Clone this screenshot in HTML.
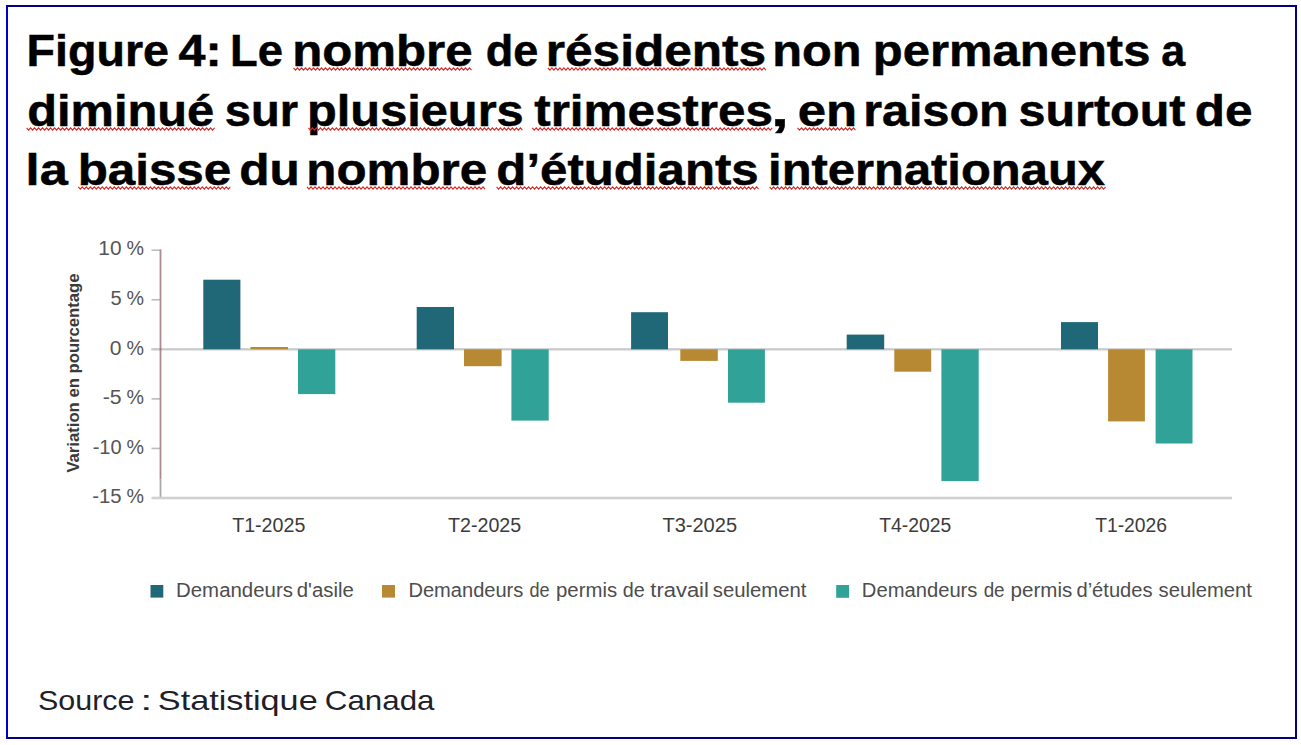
<!DOCTYPE html>
<html><head><meta charset="utf-8"><style>
html,body{margin:0;padding:0;background:#fff;width:1301px;height:745px;overflow:hidden}
svg{display:block;font-family:"Liberation Sans",sans-serif}
#frame{position:absolute;left:6px;top:5px;width:1287px;height:730px;border:2px solid #000080;border-left-color:#0000d0}
</style></head><body>
<div id="frame"></div>
<svg width="1301" height="745" viewBox="0 0 1301 745">
<text x="26.63" y="65.60" font-size="44" font-weight="bold" fill="#000" textLength="142.30" lengthAdjust="spacingAndGlyphs" stroke="#000" stroke-width="0.5">Figure</text>
<text x="178.53" y="65.60" font-size="44" font-weight="bold" fill="#000" textLength="43.13" lengthAdjust="spacingAndGlyphs" stroke="#000" stroke-width="0.5">4:</text>
<text x="230.11" y="65.60" font-size="44" font-weight="bold" fill="#000" textLength="52.88" lengthAdjust="spacingAndGlyphs" stroke="#000" stroke-width="0.5">Le</text>
<text x="292.16" y="65.60" font-size="44" font-weight="bold" fill="#000" textLength="180.46" lengthAdjust="spacingAndGlyphs" stroke="#000" stroke-width="0.5">nombre</text>
<polyline points="293.5,67.9 295.5,70.1 297.5,67.9 299.5,70.1 301.5,67.9 303.5,70.1 305.5,67.9 307.5,70.1 309.5,67.9 311.5,70.1 313.5,67.9 315.5,70.1 317.5,67.9 319.5,70.1 321.5,67.9 323.5,70.1 325.5,67.9 327.5,70.1 329.5,67.9 331.5,70.1 333.5,67.9 335.5,70.1 337.5,67.9 339.5,70.1 341.5,67.9 343.5,70.1 345.5,67.9 347.5,70.1 349.5,67.9 351.5,70.1 353.5,67.9 355.5,70.1 357.5,67.9 359.5,70.1 361.5,67.9 363.5,70.1 365.5,67.9 367.5,70.1 369.5,67.9 371.5,70.1 373.5,67.9 375.5,70.1 377.5,67.9 379.5,70.1 381.5,67.9 383.5,70.1 385.5,67.9 387.5,70.1 389.5,67.9 391.5,70.1 393.5,67.9 395.5,70.1 397.5,67.9 399.5,70.1 401.5,67.9 403.5,70.1 405.5,67.9 407.5,70.1 409.5,67.9 411.5,70.1 413.5,67.9 415.5,70.1 417.5,67.9 419.5,70.1 421.5,67.9 423.5,70.1 425.5,67.9 427.5,70.1 429.5,67.9 431.5,70.1 433.5,67.9 435.5,70.1 437.5,67.9 439.5,70.1 441.5,67.9 443.5,70.1 445.5,67.9 447.5,70.1 449.5,67.9 451.5,70.1 453.5,67.9 455.5,70.1 457.5,67.9 459.5,70.1 461.5,67.9 463.5,70.1 465.5,67.9 467.5,70.1 469.5,67.9 471.5,70.1" fill="none" stroke="#d42828" stroke-width="1.15"/>
<text x="485.66" y="65.60" font-size="44" font-weight="bold" fill="#000" textLength="52.52" lengthAdjust="spacingAndGlyphs" stroke="#000" stroke-width="0.5">de</text>
<text x="545.73" y="65.60" font-size="44" font-weight="bold" fill="#000" textLength="220.42" lengthAdjust="spacingAndGlyphs" stroke="#000" stroke-width="0.5">résidents</text>
<polyline points="547.9,67.9 549.9,70.1 551.9,67.9 553.9,70.1 555.9,67.9 557.9,70.1 559.9,67.9 561.9,70.1 563.9,67.9 565.9,70.1 567.9,67.9 569.9,70.1 571.9,67.9 573.9,70.1 575.9,67.9 577.9,70.1 579.9,67.9 581.9,70.1 583.9,67.9 585.9,70.1 587.9,67.9 589.9,70.1 591.9,67.9 593.9,70.1 595.9,67.9 597.9,70.1 599.9,67.9 601.9,70.1 603.9,67.9 605.9,70.1 607.9,67.9 609.9,70.1 611.9,67.9 613.9,70.1 615.9,67.9 617.9,70.1 619.9,67.9 621.9,70.1 623.9,67.9 625.9,70.1 627.9,67.9 629.9,70.1 631.9,67.9 633.9,70.1 635.9,67.9 637.9,70.1 639.9,67.9 641.9,70.1 643.9,67.9 645.9,70.1 647.9,67.9 649.9,70.1 651.9,67.9 653.9,70.1 655.9,67.9 657.9,70.1 659.9,67.9 661.9,70.1 663.9,67.9 665.9,70.1 667.9,67.9 669.9,70.1 671.9,67.9 673.9,70.1 675.9,67.9 677.9,70.1 679.9,67.9 681.9,70.1 683.9,67.9 685.9,70.1 687.9,67.9 689.9,70.1 691.9,67.9 693.9,70.1 695.9,67.9 697.9,70.1 699.9,67.9 701.9,70.1 703.9,67.9 705.9,70.1 707.9,67.9 709.9,70.1 711.9,67.9 713.9,70.1 715.9,67.9 717.9,70.1 719.9,67.9 721.9,70.1 723.9,67.9 725.9,70.1 727.9,67.9 729.9,70.1 731.9,67.9 733.9,70.1 735.9,67.9 737.9,70.1 739.9,67.9 741.9,70.1 743.9,67.9 745.9,70.1 747.9,67.9 749.9,70.1 751.9,67.9 753.9,70.1 755.9,67.9 757.9,70.1 759.9,67.9 761.9,70.1 763.9,67.9 765.9,70.1" fill="none" stroke="#d42828" stroke-width="1.15"/>
<text x="772.19" y="65.60" font-size="44" font-weight="bold" fill="#000" textLength="89.34" lengthAdjust="spacingAndGlyphs" stroke="#000" stroke-width="0.5">non</text>
<text x="872.87" y="65.60" font-size="44" font-weight="bold" fill="#000" textLength="277.54" lengthAdjust="spacingAndGlyphs" stroke="#000" stroke-width="0.5">permanents</text>
<text x="1161.33" y="65.60" font-size="44" font-weight="bold" fill="#000" textLength="23.95" lengthAdjust="spacingAndGlyphs" stroke="#000" stroke-width="0.5">a</text>
<text x="27.20" y="125.50" font-size="44" font-weight="bold" fill="#000" textLength="187.03" lengthAdjust="spacingAndGlyphs" stroke="#000" stroke-width="0.5">diminué</text>
<polyline points="26.6,127.9 28.6,130.1 30.6,127.9 32.6,130.1 34.6,127.9 36.6,130.1 38.6,127.9 40.6,130.1 42.6,127.9 44.6,130.1 46.6,127.9 48.6,130.1 50.6,127.9 52.6,130.1 54.6,127.9 56.6,130.1 58.6,127.9 60.6,130.1 62.6,127.9 64.6,130.1 66.6,127.9 68.6,130.1 70.6,127.9 72.6,130.1 74.6,127.9 76.6,130.1 78.6,127.9 80.6,130.1 82.6,127.9 84.6,130.1 86.6,127.9 88.6,130.1 90.6,127.9 92.6,130.1 94.6,127.9 96.6,130.1 98.6,127.9 100.6,130.1 102.6,127.9 104.6,130.1 106.6,127.9 108.6,130.1 110.6,127.9 112.6,130.1 114.6,127.9 116.6,130.1 118.6,127.9 120.6,130.1 122.6,127.9 124.6,130.1 126.6,127.9 128.6,130.1 130.6,127.9 132.6,130.1 134.6,127.9 136.6,130.1 138.6,127.9 140.6,130.1 142.6,127.9 144.6,130.1 146.6,127.9 148.6,130.1 150.6,127.9 152.6,130.1 154.6,127.9 156.6,130.1 158.6,127.9 160.6,130.1 162.6,127.9 164.6,130.1 166.6,127.9 168.6,130.1 170.6,127.9 172.6,130.1 174.6,127.9 176.6,130.1 178.6,127.9 180.6,130.1 182.6,127.9 184.6,130.1 186.6,127.9 188.6,130.1 190.6,127.9 192.6,130.1 194.6,127.9 196.6,130.1 198.6,127.9 200.6,130.1 202.6,127.9 204.6,130.1 206.6,127.9 208.6,130.1 210.6,127.9 212.6,130.1 214.6,127.9" fill="none" stroke="#d42828" stroke-width="1.15"/>
<text x="224.89" y="125.50" font-size="44" font-weight="bold" fill="#000" textLength="73.33" lengthAdjust="spacingAndGlyphs" stroke="#000" stroke-width="0.5">sur</text>
<text x="307.09" y="125.50" font-size="44" font-weight="bold" fill="#000" textLength="216.62" lengthAdjust="spacingAndGlyphs" stroke="#000" stroke-width="0.5">plusieurs</text>
<polyline points="308.4,127.9 310.4,130.1 312.4,127.9 314.4,130.1 316.4,127.9 318.4,130.1 320.4,127.9 322.4,130.1 324.4,127.9 326.4,130.1 328.4,127.9 330.4,130.1 332.4,127.9 334.4,130.1 336.4,127.9 338.4,130.1 340.4,127.9 342.4,130.1 344.4,127.9 346.4,130.1 348.4,127.9 350.4,130.1 352.4,127.9 354.4,130.1 356.4,127.9 358.4,130.1 360.4,127.9 362.4,130.1 364.4,127.9 366.4,130.1 368.4,127.9 370.4,130.1 372.4,127.9 374.4,130.1 376.4,127.9 378.4,130.1 380.4,127.9 382.4,130.1 384.4,127.9 386.4,130.1 388.4,127.9 390.4,130.1 392.4,127.9 394.4,130.1 396.4,127.9 398.4,130.1 400.4,127.9 402.4,130.1 404.4,127.9 406.4,130.1 408.4,127.9 410.4,130.1 412.4,127.9 414.4,130.1 416.4,127.9 418.4,130.1 420.4,127.9 422.4,130.1 424.4,127.9 426.4,130.1 428.4,127.9 430.4,130.1 432.4,127.9 434.4,130.1 436.4,127.9 438.4,130.1 440.4,127.9 442.4,130.1 444.4,127.9 446.4,130.1 448.4,127.9 450.4,130.1 452.4,127.9 454.4,130.1 456.4,127.9 458.4,130.1 460.4,127.9 462.4,130.1 464.4,127.9 466.4,130.1 468.4,127.9 470.4,130.1 472.4,127.9 474.4,130.1 476.4,127.9 478.4,130.1 480.4,127.9 482.4,130.1 484.4,127.9 486.4,130.1 488.4,127.9 490.4,130.1 492.4,127.9 494.4,130.1 496.4,127.9 498.4,130.1 500.4,127.9 502.4,130.1 504.4,127.9 506.4,130.1 508.4,127.9 510.4,130.1 512.4,127.9 514.4,130.1 516.4,127.9 518.4,130.1 520.4,127.9 522.4,130.1" fill="none" stroke="#d42828" stroke-width="1.15"/>
<text x="534.24" y="125.50" font-size="44" font-weight="bold" fill="#000" textLength="238.66" lengthAdjust="spacingAndGlyphs" stroke="#000" stroke-width="0.5">trimestres</text>
<polyline points="532.2,127.9 534.2,130.1 536.2,127.9 538.2,130.1 540.2,127.9 542.2,130.1 544.2,127.9 546.2,130.1 548.2,127.9 550.2,130.1 552.2,127.9 554.2,130.1 556.2,127.9 558.2,130.1 560.2,127.9 562.2,130.1 564.2,127.9 566.2,130.1 568.2,127.9 570.2,130.1 572.2,127.9 574.2,130.1 576.2,127.9 578.2,130.1 580.2,127.9 582.2,130.1 584.2,127.9 586.2,130.1 588.2,127.9 590.2,130.1 592.2,127.9 594.2,130.1 596.2,127.9 598.2,130.1 600.2,127.9 602.2,130.1 604.2,127.9 606.2,130.1 608.2,127.9 610.2,130.1 612.2,127.9 614.2,130.1 616.2,127.9 618.2,130.1 620.2,127.9 622.2,130.1 624.2,127.9 626.2,130.1 628.2,127.9 630.2,130.1 632.2,127.9 634.2,130.1 636.2,127.9 638.2,130.1 640.2,127.9 642.2,130.1 644.2,127.9 646.2,130.1 648.2,127.9 650.2,130.1 652.2,127.9 654.2,130.1 656.2,127.9 658.2,130.1 660.2,127.9 662.2,130.1 664.2,127.9 666.2,130.1 668.2,127.9 670.2,130.1 672.2,127.9 674.2,130.1 676.2,127.9 678.2,130.1 680.2,127.9 682.2,130.1 684.2,127.9 686.2,130.1 688.2,127.9 690.2,130.1 692.2,127.9 694.2,130.1 696.2,127.9 698.2,130.1 700.2,127.9 702.2,130.1 704.2,127.9 706.2,130.1 708.2,127.9 710.2,130.1 712.2,127.9 714.2,130.1 716.2,127.9 718.2,130.1 720.2,127.9 722.2,130.1 724.2,127.9 726.2,130.1 728.2,127.9 730.2,130.1 732.2,127.9 734.2,130.1 736.2,127.9 738.2,130.1 740.2,127.9 742.2,130.1 744.2,127.9 746.2,130.1 748.2,127.9 750.2,130.1 752.2,127.9 754.2,130.1 756.2,127.9 758.2,130.1 760.2,127.9 762.2,130.1 764.2,127.9 766.2,130.1 768.2,127.9 770.2,130.1 772.2,127.9" fill="none" stroke="#d42828" stroke-width="1.15"/>
<text x="771.31" y="125.50" font-size="44" font-weight="bold" fill="#000" textLength="17.46" lengthAdjust="spacingAndGlyphs" stroke="#000" stroke-width="0.5">,</text>
<text x="797.74" y="125.50" font-size="44" font-weight="bold" fill="#000" textLength="59.34" lengthAdjust="spacingAndGlyphs" stroke="#000" stroke-width="0.5">en</text>
<polyline points="797.5,127.9 799.5,130.1 801.5,127.9 803.5,130.1 805.5,127.9 807.5,130.1 809.5,127.9 811.5,130.1 813.5,127.9 815.5,130.1 817.5,127.9 819.5,130.1 821.5,127.9 823.5,130.1 825.5,127.9 827.5,130.1 829.5,127.9 831.5,130.1 833.5,127.9 835.5,130.1 837.5,127.9 839.5,130.1 841.5,127.9 843.5,130.1 845.5,127.9 847.5,130.1 849.5,127.9 851.5,130.1 853.5,127.9 855.5,130.1" fill="none" stroke="#d42828" stroke-width="1.15"/>
<text x="863.20" y="125.50" font-size="44" font-weight="bold" fill="#000" textLength="145.52" lengthAdjust="spacingAndGlyphs" stroke="#000" stroke-width="0.5">raison</text>
<text x="1018.44" y="125.50" font-size="44" font-weight="bold" fill="#000" textLength="167.05" lengthAdjust="spacingAndGlyphs" stroke="#000" stroke-width="0.5">surtout</text>
<text x="1194.78" y="125.50" font-size="44" font-weight="bold" fill="#000" textLength="57.75" lengthAdjust="spacingAndGlyphs" stroke="#000" stroke-width="0.5">de</text>
<text x="25.64" y="184.50" font-size="44" font-weight="bold" fill="#000" textLength="42.12" lengthAdjust="spacingAndGlyphs" stroke="#000" stroke-width="0.5">la</text>
<text x="77.65" y="184.50" font-size="44" font-weight="bold" fill="#000" textLength="153.61" lengthAdjust="spacingAndGlyphs" stroke="#000" stroke-width="0.5">baisse</text>
<polyline points="78.3,186.9 80.3,189.1 82.3,186.9 84.3,189.1 86.3,186.9 88.3,189.1 90.3,186.9 92.3,189.1 94.3,186.9 96.3,189.1 98.3,186.9 100.3,189.1 102.3,186.9 104.3,189.1 106.3,186.9 108.3,189.1 110.3,186.9 112.3,189.1 114.3,186.9 116.3,189.1 118.3,186.9 120.3,189.1 122.3,186.9 124.3,189.1 126.3,186.9 128.3,189.1 130.3,186.9 132.3,189.1 134.3,186.9 136.3,189.1 138.3,186.9 140.3,189.1 142.3,186.9 144.3,189.1 146.3,186.9 148.3,189.1 150.3,186.9 152.3,189.1 154.3,186.9 156.3,189.1 158.3,186.9 160.3,189.1 162.3,186.9 164.3,189.1 166.3,186.9 168.3,189.1 170.3,186.9 172.3,189.1 174.3,186.9 176.3,189.1 178.3,186.9 180.3,189.1 182.3,186.9 184.3,189.1 186.3,186.9 188.3,189.1 190.3,186.9 192.3,189.1 194.3,186.9 196.3,189.1 198.3,186.9 200.3,189.1 202.3,186.9 204.3,189.1 206.3,186.9 208.3,189.1 210.3,186.9 212.3,189.1 214.3,186.9 216.3,189.1 218.3,186.9 220.3,189.1 222.3,186.9 224.3,189.1 226.3,186.9 228.3,189.1 230.3,186.9" fill="none" stroke="#d42828" stroke-width="1.15"/>
<text x="239.37" y="184.50" font-size="44" font-weight="bold" fill="#000" textLength="60.54" lengthAdjust="spacingAndGlyphs" stroke="#000" stroke-width="0.5">du</text>
<text x="306.35" y="184.50" font-size="44" font-weight="bold" fill="#000" textLength="180.87" lengthAdjust="spacingAndGlyphs" stroke="#000" stroke-width="0.5">nombre</text>
<polyline points="307.0,186.9 309.0,189.1 311.0,186.9 313.0,189.1 315.0,186.9 317.0,189.1 319.0,186.9 321.0,189.1 323.0,186.9 325.0,189.1 327.0,186.9 329.0,189.1 331.0,186.9 333.0,189.1 335.0,186.9 337.0,189.1 339.0,186.9 341.0,189.1 343.0,186.9 345.0,189.1 347.0,186.9 349.0,189.1 351.0,186.9 353.0,189.1 355.0,186.9 357.0,189.1 359.0,186.9 361.0,189.1 363.0,186.9 365.0,189.1 367.0,186.9 369.0,189.1 371.0,186.9 373.0,189.1 375.0,186.9 377.0,189.1 379.0,186.9 381.0,189.1 383.0,186.9 385.0,189.1 387.0,186.9 389.0,189.1 391.0,186.9 393.0,189.1 395.0,186.9 397.0,189.1 399.0,186.9 401.0,189.1 403.0,186.9 405.0,189.1 407.0,186.9 409.0,189.1 411.0,186.9 413.0,189.1 415.0,186.9 417.0,189.1 419.0,186.9 421.0,189.1 423.0,186.9 425.0,189.1 427.0,186.9 429.0,189.1 431.0,186.9 433.0,189.1 435.0,186.9 437.0,189.1 439.0,186.9 441.0,189.1 443.0,186.9 445.0,189.1 447.0,186.9 449.0,189.1 451.0,186.9 453.0,189.1 455.0,186.9 457.0,189.1 459.0,186.9 461.0,189.1 463.0,186.9 465.0,189.1 467.0,186.9 469.0,189.1 471.0,186.9 473.0,189.1 475.0,186.9 477.0,189.1 479.0,186.9 481.0,189.1 483.0,186.9 485.0,189.1" fill="none" stroke="#d42828" stroke-width="1.15"/>
<text x="496.39" y="184.50" font-size="44" font-weight="bold" fill="#000" textLength="262.29" lengthAdjust="spacingAndGlyphs" stroke="#000" stroke-width="0.5">d’étudiants</text>
<polyline points="496.6,186.9 498.6,189.1 500.6,186.9 502.6,189.1 504.6,186.9 506.6,189.1 508.6,186.9 510.6,189.1 512.6,186.9 514.6,189.1 516.6,186.9 518.6,189.1 520.6,186.9 522.6,189.1 524.6,186.9 526.6,189.1 528.6,186.9 530.6,189.1 532.6,186.9 534.6,189.1 536.6,186.9 538.6,189.1 540.6,186.9 542.6,189.1 544.6,186.9 546.6,189.1 548.6,186.9 550.6,189.1 552.6,186.9 554.6,189.1 556.6,186.9 558.6,189.1 560.6,186.9 562.6,189.1 564.6,186.9 566.6,189.1 568.6,186.9 570.6,189.1 572.6,186.9 574.6,189.1 576.6,186.9 578.6,189.1 580.6,186.9 582.6,189.1 584.6,186.9 586.6,189.1 588.6,186.9 590.6,189.1 592.6,186.9 594.6,189.1 596.6,186.9 598.6,189.1 600.6,186.9 602.6,189.1 604.6,186.9 606.6,189.1 608.6,186.9 610.6,189.1 612.6,186.9 614.6,189.1 616.6,186.9 618.6,189.1 620.6,186.9 622.6,189.1 624.6,186.9 626.6,189.1 628.6,186.9 630.6,189.1 632.6,186.9 634.6,189.1 636.6,186.9 638.6,189.1 640.6,186.9 642.6,189.1 644.6,186.9 646.6,189.1 648.6,186.9 650.6,189.1 652.6,186.9 654.6,189.1 656.6,186.9 658.6,189.1 660.6,186.9 662.6,189.1 664.6,186.9 666.6,189.1 668.6,186.9 670.6,189.1 672.6,186.9 674.6,189.1 676.6,186.9 678.6,189.1 680.6,186.9 682.6,189.1 684.6,186.9 686.6,189.1 688.6,186.9 690.6,189.1 692.6,186.9 694.6,189.1 696.6,186.9 698.6,189.1 700.6,186.9 702.6,189.1 704.6,186.9 706.6,189.1 708.6,186.9 710.6,189.1 712.6,186.9 714.6,189.1 716.6,186.9 718.6,189.1 720.6,186.9 722.6,189.1 724.6,186.9 726.6,189.1 728.6,186.9 730.6,189.1 732.6,186.9 734.6,189.1 736.6,186.9 738.6,189.1 740.6,186.9 742.6,189.1 744.6,186.9 746.6,189.1 748.6,186.9 750.6,189.1 752.6,186.9 754.6,189.1 756.6,186.9 758.6,189.1" fill="none" stroke="#d42828" stroke-width="1.15"/>
<text x="768.05" y="184.50" font-size="44" font-weight="bold" fill="#000" textLength="336.93" lengthAdjust="spacingAndGlyphs" stroke="#000" stroke-width="0.5">internationaux</text>
<polyline points="769.6,186.9 771.6,189.1 773.6,186.9 775.6,189.1 777.6,186.9 779.6,189.1 781.6,186.9 783.6,189.1 785.6,186.9 787.6,189.1 789.6,186.9 791.6,189.1 793.6,186.9 795.6,189.1 797.6,186.9 799.6,189.1 801.6,186.9 803.6,189.1 805.6,186.9 807.6,189.1 809.6,186.9 811.6,189.1 813.6,186.9 815.6,189.1 817.6,186.9 819.6,189.1 821.6,186.9 823.6,189.1 825.6,186.9 827.6,189.1 829.6,186.9 831.6,189.1 833.6,186.9 835.6,189.1 837.6,186.9 839.6,189.1 841.6,186.9 843.6,189.1 845.6,186.9 847.6,189.1 849.6,186.9 851.6,189.1 853.6,186.9 855.6,189.1 857.6,186.9 859.6,189.1 861.6,186.9 863.6,189.1 865.6,186.9 867.6,189.1 869.6,186.9 871.6,189.1 873.6,186.9 875.6,189.1 877.6,186.9 879.6,189.1 881.6,186.9 883.6,189.1 885.6,186.9 887.6,189.1 889.6,186.9 891.6,189.1 893.6,186.9 895.6,189.1 897.6,186.9 899.6,189.1 901.6,186.9 903.6,189.1 905.6,186.9 907.6,189.1 909.6,186.9 911.6,189.1 913.6,186.9 915.6,189.1 917.6,186.9 919.6,189.1 921.6,186.9 923.6,189.1 925.6,186.9 927.6,189.1 929.6,186.9 931.6,189.1 933.6,186.9 935.6,189.1 937.6,186.9 939.6,189.1 941.6,186.9 943.6,189.1 945.6,186.9 947.6,189.1 949.6,186.9 951.6,189.1 953.6,186.9 955.6,189.1 957.6,186.9 959.6,189.1 961.6,186.9 963.6,189.1 965.6,186.9 967.6,189.1 969.6,186.9 971.6,189.1 973.6,186.9 975.6,189.1 977.6,186.9 979.6,189.1 981.6,186.9 983.6,189.1 985.6,186.9 987.6,189.1 989.6,186.9 991.6,189.1 993.6,186.9 995.6,189.1 997.6,186.9 999.6,189.1 1001.6,186.9 1003.6,189.1 1005.6,186.9 1007.6,189.1 1009.6,186.9 1011.6,189.1 1013.6,186.9 1015.6,189.1 1017.6,186.9 1019.6,189.1 1021.6,186.9 1023.6,189.1 1025.6,186.9 1027.6,189.1 1029.6,186.9 1031.6,189.1 1033.6,186.9 1035.6,189.1 1037.6,186.9 1039.6,189.1 1041.6,186.9 1043.6,189.1 1045.6,186.9 1047.6,189.1 1049.6,186.9 1051.6,189.1 1053.6,186.9 1055.6,189.1 1057.6,186.9 1059.6,189.1 1061.6,186.9 1063.6,189.1 1065.6,186.9 1067.6,189.1 1069.6,186.9 1071.6,189.1 1073.6,186.9 1075.6,189.1 1077.6,186.9 1079.6,189.1 1081.6,186.9 1083.6,189.1 1085.6,186.9 1087.6,189.1 1089.6,186.9 1091.6,189.1 1093.6,186.9 1095.6,189.1 1097.6,186.9 1099.6,189.1 1101.6,186.9 1103.6,189.1 1105.6,186.9" fill="none" stroke="#d42828" stroke-width="1.15"/>
<text x="98.39" y="255.40" font-size="20" font-weight="normal" fill="#555" textLength="23.19" lengthAdjust="spacingAndGlyphs">10</text>
<text x="126.48" y="255.40" font-size="20" font-weight="normal" fill="#555" textLength="17.50" lengthAdjust="spacingAndGlyphs">%</text>
<rect x="151.5" y="249.40" width="9" height="1.6" fill="#bdbdbd"/>
<text x="110.48" y="304.96" font-size="20" font-weight="normal" fill="#555" textLength="11.18" lengthAdjust="spacingAndGlyphs">5</text>
<text x="126.48" y="304.96" font-size="20" font-weight="normal" fill="#555" textLength="17.50" lengthAdjust="spacingAndGlyphs">%</text>
<rect x="151.5" y="298.96" width="9" height="1.6" fill="#bdbdbd"/>
<text x="109.89" y="354.52" font-size="20" font-weight="normal" fill="#555" textLength="11.71" lengthAdjust="spacingAndGlyphs">0</text>
<text x="126.48" y="354.52" font-size="20" font-weight="normal" fill="#555" textLength="17.50" lengthAdjust="spacingAndGlyphs">%</text>
<rect x="151.5" y="348.52" width="9" height="1.6" fill="#bdbdbd"/>
<text x="102.73" y="404.08" font-size="20" font-weight="normal" fill="#555" textLength="18.95" lengthAdjust="spacingAndGlyphs">-5</text>
<text x="126.48" y="404.08" font-size="20" font-weight="normal" fill="#555" textLength="17.50" lengthAdjust="spacingAndGlyphs">%</text>
<rect x="151.5" y="398.08" width="9" height="1.6" fill="#bdbdbd"/>
<text x="92.69" y="453.64" font-size="20" font-weight="normal" fill="#555" textLength="28.88" lengthAdjust="spacingAndGlyphs">-10</text>
<text x="126.48" y="453.64" font-size="20" font-weight="normal" fill="#555" textLength="17.50" lengthAdjust="spacingAndGlyphs">%</text>
<rect x="151.5" y="447.64" width="9" height="1.6" fill="#bdbdbd"/>
<text x="92.28" y="503.20" font-size="20" font-weight="normal" fill="#555" textLength="29.40" lengthAdjust="spacingAndGlyphs">-15</text>
<text x="126.48" y="503.20" font-size="20" font-weight="normal" fill="#555" textLength="17.50" lengthAdjust="spacingAndGlyphs">%</text>
<rect x="151.5" y="497.20" width="9" height="1.6" fill="#bdbdbd"/>
<rect x="159.6" y="249.40" width="1.8" height="230.10" fill="#b08890"/>
<rect x="159.6" y="479.5" width="1.8" height="18.50" fill="#a8a8a8"/>
<rect x="151.5" y="348.22" width="1080.5" height="2.2" fill="#c8c8c8"/>
<rect x="152" y="496.70" width="1080.0" height="2.6" fill="#d0d0d0"/>
<rect x="159.6" y="348.22" width="1.8" height="2.2" fill="#8d7078"/>
<rect x="203.3" y="279.70" width="37.1" height="69.62" fill="#206778"/>
<rect x="250.5" y="347.00" width="37.5" height="2.32" fill="#b78932"/>
<rect x="298.0" y="349.32" width="37.3" height="44.78" fill="#30a298"/>
<rect x="416.7" y="307.00" width="37.3" height="42.32" fill="#206778"/>
<rect x="464.0" y="349.32" width="37.6" height="16.88" fill="#b78932"/>
<rect x="511.4" y="349.32" width="37.3" height="71.28" fill="#30a298"/>
<rect x="631.1" y="312.20" width="36.9" height="37.12" fill="#206778"/>
<rect x="680.3" y="349.32" width="37.5" height="11.58" fill="#b78932"/>
<rect x="728.0" y="349.32" width="36.9" height="53.38" fill="#30a298"/>
<rect x="846.7" y="334.60" width="37.5" height="14.72" fill="#206778"/>
<rect x="894.3" y="349.32" width="36.9" height="22.38" fill="#b78932"/>
<rect x="941.4" y="349.32" width="37.3" height="131.78" fill="#30a298"/>
<rect x="1061.0" y="322.10" width="37.0" height="27.22" fill="#206778"/>
<rect x="1108.1" y="349.32" width="36.8" height="72.08" fill="#b78932"/>
<rect x="1155.6" y="349.32" width="36.9" height="94.18" fill="#30a298"/>
<text x="232.15" y="532.00" font-size="20" font-weight="normal" fill="#3c3c3c" textLength="73.19" lengthAdjust="spacingAndGlyphs">T1-2025</text>
<text x="447.95" y="532.00" font-size="20" font-weight="normal" fill="#3c3c3c" textLength="73.29" lengthAdjust="spacingAndGlyphs">T2-2025</text>
<text x="662.44" y="532.00" font-size="20" font-weight="normal" fill="#3c3c3c" textLength="74.61" lengthAdjust="spacingAndGlyphs">T3-2025</text>
<text x="879.26" y="532.00" font-size="20" font-weight="normal" fill="#3c3c3c" textLength="72.07" lengthAdjust="spacingAndGlyphs">T4-2025</text>
<text x="1095.16" y="532.00" font-size="20" font-weight="normal" fill="#3c3c3c" textLength="71.91" lengthAdjust="spacingAndGlyphs">T1-2026</text>
<rect x="150.5" y="585" width="12.8" height="12.6" fill="#206778"/>
<rect x="382" y="585" width="13" height="12.6" fill="#b78932"/>
<rect x="836.2" y="585" width="12.9" height="12.8" fill="#30a298"/>
<text x="176.03" y="597.00" font-size="19.5" font-weight="normal" fill="#4d4d4d" textLength="116.91" lengthAdjust="spacingAndGlyphs">Demandeurs</text>
<text x="296.77" y="597.00" font-size="19.5" font-weight="normal" fill="#4d4d4d" textLength="57.04" lengthAdjust="spacingAndGlyphs">d&#x27;asile</text>
<text x="408.46" y="597.00" font-size="19.5" font-weight="normal" fill="#4d4d4d" textLength="114.87" lengthAdjust="spacingAndGlyphs">Demandeurs</text>
<text x="529.46" y="597.00" font-size="19.5" font-weight="normal" fill="#4d4d4d" textLength="20.14" lengthAdjust="spacingAndGlyphs">de</text>
<text x="556.00" y="597.00" font-size="19.5" font-weight="normal" fill="#4d4d4d" textLength="61.15" lengthAdjust="spacingAndGlyphs">permis</text>
<text x="622.89" y="597.00" font-size="19.5" font-weight="normal" fill="#4d4d4d" textLength="21.98" lengthAdjust="spacingAndGlyphs">de</text>
<text x="650.35" y="597.00" font-size="19.5" font-weight="normal" fill="#4d4d4d" textLength="58.53" lengthAdjust="spacingAndGlyphs">travail</text>
<text x="712.75" y="597.00" font-size="19.5" font-weight="normal" fill="#4d4d4d" textLength="93.69" lengthAdjust="spacingAndGlyphs">seulement</text>
<text x="861.85" y="597.00" font-size="19.5" font-weight="normal" fill="#4d4d4d" textLength="115.59" lengthAdjust="spacingAndGlyphs">Demandeurs</text>
<text x="983.63" y="597.00" font-size="19.5" font-weight="normal" fill="#4d4d4d" textLength="21.01" lengthAdjust="spacingAndGlyphs">de</text>
<text x="1010.59" y="597.00" font-size="19.5" font-weight="normal" fill="#4d4d4d" textLength="61.67" lengthAdjust="spacingAndGlyphs">permis</text>
<text x="1076.48" y="597.00" font-size="19.5" font-weight="normal" fill="#4d4d4d" textLength="76.03" lengthAdjust="spacingAndGlyphs">d’études</text>
<text x="1158.55" y="597.00" font-size="19.5" font-weight="normal" fill="#4d4d4d" textLength="93.39" lengthAdjust="spacingAndGlyphs">seulement</text>
<text x="37.91" y="710.40" font-size="28" font-weight="normal" fill="#1f1f2a" textLength="96.58" lengthAdjust="spacingAndGlyphs">Source</text>
<text x="140.00" y="710.40" font-size="28" font-weight="normal" fill="#1f1f2a" textLength="12.52" lengthAdjust="spacingAndGlyphs">:</text>
<text x="157.84" y="710.40" font-size="28" font-weight="normal" fill="#1f1f2a" textLength="159.88" lengthAdjust="spacingAndGlyphs">Statistique</text>
<text x="324.83" y="710.40" font-size="28" font-weight="normal" fill="#1f1f2a" textLength="109.71" lengthAdjust="spacingAndGlyphs">Canada</text>
<text transform="rotate(-90)" x="-472.61" y="79.4" font-size="17" font-weight="bold" fill="#3a3a3a" textLength="199.17" lengthAdjust="spacingAndGlyphs">Variation en pourcentage</text>
</svg>
</body></html>
